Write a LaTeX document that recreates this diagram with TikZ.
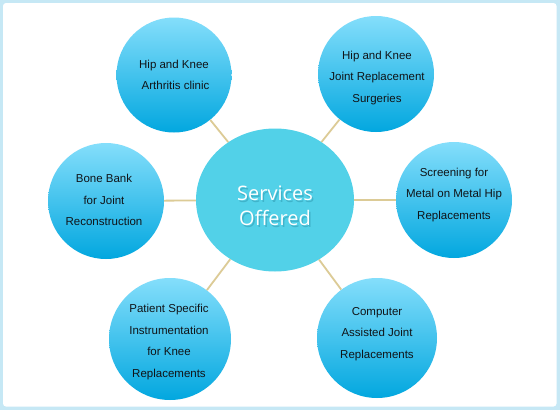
\documentclass[tikz,border=0pt]{standalone}
\usepackage{fontspec}
\setmainfont{Liberation Sans}
\newfontfamily\titlefont{Open Sans}
\usetikzlibrary{shapes.geometric}
\definecolor{framecol}{HTML}{C6E8F5}
\definecolor{satTop}{HTML}{84DEFB}
\definecolor{satBot}{HTML}{02A7DF}
\definecolor{hubcol}{HTML}{52D1E8}
\definecolor{linkcol}{HTML}{DCCB96}
\definecolor{shadowcol}{HTML}{2A8FA6}
\definecolor{labelcol}{HTML}{101418}
\tikzset{
  sat/.style={circle, inner sep=0pt, minimum size=#1, top color=satTop, bottom color=satBot, draw=none},
  sattext/.style={align=center, font=\fontsize{11.5}{21.5}\selectfont, text=labelcol, inner sep=0pt},
  hub/.style={ellipse, inner sep=0pt, minimum width=158pt, minimum height=143pt, fill=hubcol},
  link/.style={draw=linkcol, line width=1.8pt},
  hubtext/.style={align=center, font=\titlefont\fontsize{20}{25}\selectfont, inner sep=0pt}
}
\begin{document}
\begin{tikzpicture}[x=1pt,y=-1pt]
\fill[framecol] (0,0) rectangle (560,410);
\fill[white, rounded corners=3pt] (3,3) rectangle (556.5,406.5);
\useasboundingbox (0,0) rectangle (560,410);

\node[hub] (c) at (275,200) {};
\node[sat=115pt] (a1) at (174,75) {};
\node[sat=116pt] (a2) at (376,74) {};
\node[sat=116pt] (a3) at (454,200) {};
\node[sat=116pt] (a4) at (106,201) {};
\node[sat=122pt] (a5) at (170,339) {};
\node[sat=120pt] (a6) at (377,338) {};

\foreach \s in {a1,a2,a3,a4,a5,a6} \draw[link] (\s) -- (c);

\node[hubtext, text=shadowcol, opacity=0.45] at (276.5,207.5) {Services\\ Offered};
\node[hubtext, text=white] (ct) at (275,206) {Services\\ Offered};

\node[sattext] (t1) at (174,75) {Hip and Knee\\ \ Arthritis clinic};
\node[sattext] (t2) at (377,78) {Hip and Knee\\Joint Replacement\\ Surgeries};
\node[sattext] (t3) at (454,195) {Screening for\\Metal on Metal Hip\\ Replacements};
\node[sattext] (t4) at (104,200) {Bone Bank\\ for Joint\\Reconstruction};
\node[sattext] (t5) at (169,342) {Patient Specific\\Instrumentation\\for Knee\\ Replacements};
\node[sattext] (t6) at (377,334) {Computer\\Assisted Joint\\Replacements};
\end{tikzpicture}
\end{document}
